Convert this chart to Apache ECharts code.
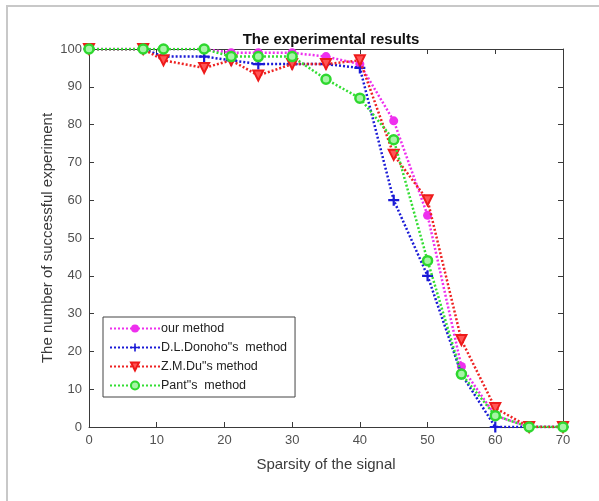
<!DOCTYPE html>
<html>
<head>
<meta charset="utf-8">
<script src="https://cdn.jsdelivr.net/npm/echarts@6/dist/echarts.min.js"></script>
<style>html,body{margin:0;padding:0;background:#fff;}#c{width:599px;height:501px;}</style>
</head>
<body>
<div id="c"></div>
<script>
var sparsity = [0, 8, 11, 17, 21, 25, 30, 35, 40, 45, 50, 55, 60, 65, 70];
var ourMethod = [100, 100, 100, 100, 99, 99, 99, 98, 96, 81, 56, 16, 3, 0, 0];
var donohoMethod = [100, 100, 98, 98, 97, 96, 96, 96, 95, 60, 40, 14, 0, 0, 0];
var duMethod = [100, 100, 97, 95, 97, 93, 96, 96, 97, 72, 60, 23, 5, 0, 0];
var pantMethod = [100, 100, 100, 100, 98, 98, 98, 92, 87, 76, 44, 14, 3, 0, 0];
var seriesNames = ['our method', 'D.L.Donoho"s  method', 'Z.M.Du"s method', 'Pant"s  method'];
var xTicks = [0, 10, 20, 30, 40, 50, 60, 70];
var yTicks = [0, 10, 20, 30, 40, 50, 60, 70, 80, 90, 100];

function pairs(ys) { return sparsity.map(function (x, i) { return [x, ys[i]]; }); }

var FONT = 'Liberation Sans, Arial, sans-serif';
var axisCol = '#3a3a3a';
var chart = echarts.init(document.getElementById('c'));

function baseAxis(pos, show, minV, maxV, step) {
  return {
    type: 'value', position: pos, min: minV, max: maxV, interval: step,
    axisLine: { show: true, onZero: false, lineStyle: { color: axisCol, width: 1 } },
    axisTick: { show: true, inside: true, length: 5, lineStyle: { color: axisCol } },
    axisLabel: { show: show, color: '#505050', fontSize: 13, fontFamily: FONT, margin: 7 },
    splitLine: { show: false }
  };
}

var xMain = baseAxis('bottom', true, xTicks[0], xTicks[xTicks.length - 1], 10);
xMain.name = 'Sparsity of the signal';
xMain.nameLocation = 'middle';
xMain.nameGap = 30;
xMain.nameMoveOverlap = false;
xMain.nameTextStyle = { fontSize: 15, color: '#3a3a3a', fontFamily: FONT };
var xTop = baseAxis('top', false, xTicks[0], xTicks[xTicks.length - 1], 10);

var yMain = baseAxis('left', true, yTicks[0], yTicks[yTicks.length - 1], 10);
yMain.name = 'The number of successful experiment';
yMain.nameLocation = 'middle';
yMain.nameGap = 34;
yMain.nameRotate = 90;
yMain.nameMoveOverlap = false;
yMain.nameTextStyle = { fontSize: 15, color: '#3a3a3a', fontFamily: FONT };
var yRight = baseAxis('right', false, yTicks[0], yTicks[yTicks.length - 1], 10);

var plusPath = 'path://M4,0 L6,0 L6,4 L10,4 L10,6 L6,6 L6,10 L4,10 L4,6 L0,6 L0,4 L4,4 Z';

var styles = [
  { color: '#ee2fee', symbol: 'circle', size: 9, item: { color: '#ee2fee' } },
  { color: '#1a1ad6', symbol: plusPath, size: 11, item: { color: '#1a1ad6' } },
  { color: '#ee2222', symbol: 'triangle', size: 10, rotate: 180, item: { color: '#ff5555', borderColor: '#ee1a1a', borderWidth: 2 } },
  { color: '#33dd33', symbol: 'circle', size: 9, item: { color: '#a6f5a6', borderColor: '#2ed82e', borderWidth: 2.5 } }
];
var datas = [ourMethod, donohoMethod, duMethod, pantMethod];

var series = datas.map(function (d, i) {
  var s = styles[i];
  return {
    name: seriesNames[i],
    type: 'line',
    xAxisIndex: 0, yAxisIndex: 0,
    data: pairs(d),
    symbol: s.symbol,
    symbolSize: s.size,
    symbolRotate: s.rotate || 0,
    showAllSymbol: true,
    animation: false,
    lineStyle: { color: s.color, width: 2.5, type: [2, 2] },
    itemStyle: s.item,
    z: 2 + i
  };
});

chart.setOption({
  backgroundColor: '#ffffff',
  animation: false,
  title: {
    text: 'The experimental results',
    left: 326, top: 27, textAlign: 'center',
    textStyle: { fontSize: 15, fontWeight: 'bold', color: '#111', fontFamily: FONT }
  },
  graphic: [{
    type: 'rect', z: -10,
    shape: { x: 7, y: 6, width: 620, height: 520 },
    style: { fill: 'none', stroke: '#c8c8c8', lineWidth: 2 }
  }],
  grid: { left: 89, right: 36, top: 49, bottom: 74, containLabel: false },
  xAxis: [xMain, xTop],
  yAxis: [yMain, yRight],
  legend: {
    orient: 'vertical',
    left: 103, top: 317,
    data: seriesNames,
    itemWidth: 50, itemHeight: 10, itemGap: 6,
    padding: [5, 8, 5, 6],
    borderColor: '#444', borderWidth: 1,
    backgroundColor: '#fff',
    textStyle: { fontSize: 12.5, color: '#222', fontFamily: FONT, padding: [0, 0, 0, -4] }
  },
  series: series
});
</script>
</body>
</html>
